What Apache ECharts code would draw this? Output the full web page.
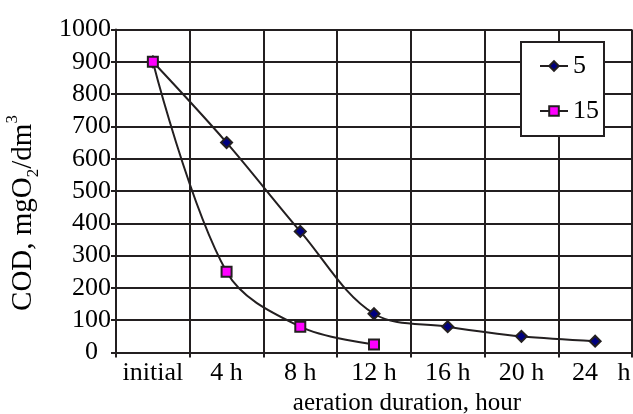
<!DOCTYPE html>
<html>
<head>
<meta charset="utf-8">
<script src="https://cdn.jsdelivr.net/npm/echarts@6/dist/echarts.min.js"></script>
<style>
html,body{margin:0;padding:0;background:#fff;}
#chart{width:633px;height:414px;}
</style>
</head>
<body>
<div id="chart"></div>
<script>
const categories = ['initial', '4 h', '8 h', '12 h', '16 h', '20 h', '24   h'];
const seriesNames = ['5', '15'];
const series5 = [900, 650, 375, 120, 80, 50, 35];
const series15 = [900, 250, 80, 25, null, null, null];
const yMin = 0, yMax = 1000, yInterval = 100;

const ink = '#231f20';
const font = 'Liberation Serif';

const chart = echarts.init(document.getElementById('chart'));
chart.setOption({
  animation: false,
  backgroundColor: '#fff',
  textStyle: { fontFamily: font, color: '#000' },
  grid: { left: 116, right: 1, top: 29.5, bottom: 61.5, containLabel: false, outerBoundsMode: 'none' },
  legend: {
    data: seriesNames,
    orient: 'vertical',
    left: 521, top: 42,
    padding: [11, 5, 12, 18],
    itemGap: 19,
    itemWidth: 28, itemHeight: 12,
    backgroundColor: '#fff',
    borderColor: ink, borderWidth: 2,
    textStyle: { fontFamily: font, fontSize: 26, color: '#000', lineHeight: 26 }
  },
  xAxis: {
    type: 'category',
    data: categories,
    boundaryGap: true,
    name: 'aeration duration, hour',
    nameLocation: 'middle',
    nameGap: 36,
    nameTextStyle: { fontFamily: font, fontSize: 25, color: '#000', padding: [0, 0, 0, 66] },
    axisLine: { lineStyle: { color: ink, width: 2 } },
    axisTick: { show: true, interval: 0, length: 5, lineStyle: { color: ink, width: 2 } },
    axisLabel: { interval: 0, fontFamily: font, fontSize: 26, color: '#000', margin: 8,
      formatter: function (v) { return v === '24   h' ? '{r|' + v + '}' : v; },
      rich: { r: { fontFamily: font, fontSize: 26, color: '#000', padding: [0, 0, 0, 12] } } },
    splitLine: { show: true, interval: 0, lineStyle: { color: ink, width: 2 } }
  },
  yAxis: {
    type: 'value',
    min: yMin, max: yMax, interval: yInterval,
    name: '{a|COD, mgO}{s|2}{a|/dm}{p|3}',
    nameLocation: 'middle',
    nameRotate: 90,
    nameGap: 74,
    nameTextStyle: {
      padding: [0, 44, 0, 0],
      rich: {
        a: { fontFamily: font, fontSize: 29, color: '#000', lineHeight: 38, verticalAlign: 'middle' },
        s: { fontFamily: font, fontSize: 17, color: '#000', lineHeight: 17, verticalAlign: 'bottom' },
        p: { fontFamily: font, fontSize: 17, color: '#000', lineHeight: 17, verticalAlign: 'top' }
      }
    },
    axisLine: { show: true, lineStyle: { color: ink, width: 2 } },
    axisTick: { show: true, length: 5, lineStyle: { color: ink, width: 2 } },
    axisLabel: { fontFamily: font, fontSize: 26, color: '#000', margin: 5, padding: [0, 0, 10, 0],
      formatter: function (v) { return v === 0 ? '0  ' : String(v); } },
    splitLine: { show: true, lineStyle: { color: ink, width: 2 } }
  },
  series: [
    {
      name: seriesNames[0], type: 'line', data: series5, smooth: 0.35,
      symbol: 'diamond', symbolSize: 11,
      lineStyle: { color: ink, width: 2 },
      itemStyle: { color: '#000080', borderColor: ink, borderWidth: 2 },
      z: 5
    },
    {
      name: seriesNames[1], type: 'line', data: series15, smooth: 0.35,
      symbol: 'rect', symbolSize: 10,
      lineStyle: { color: ink, width: 2 },
      itemStyle: { color: '#ff00ff', borderColor: ink, borderWidth: 2 },
      z: 6
    }
  ]
});
</script>
</body>
</html>
